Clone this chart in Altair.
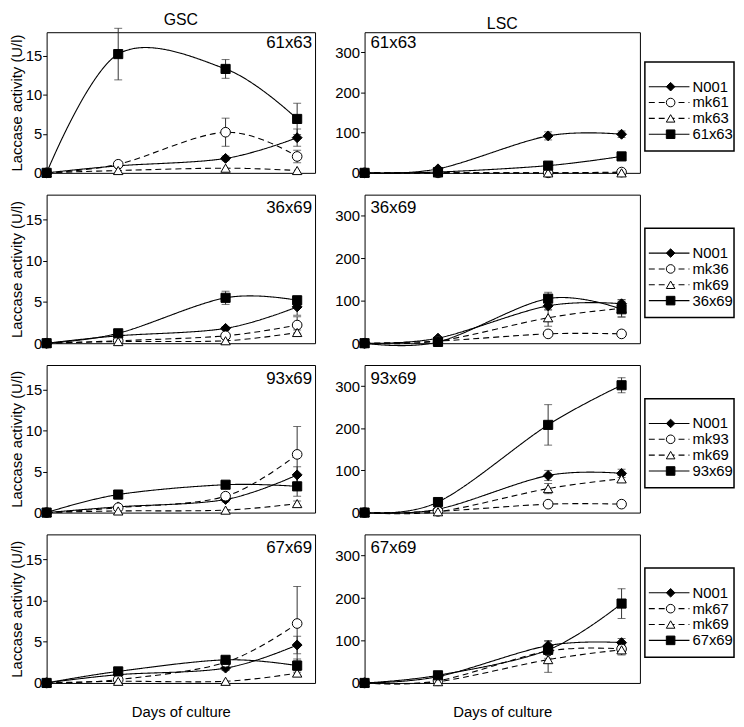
import altair as alt
import pandas as pd

DAYS = [0, 2, 5, 7]
CROSSES = ["61x63", "36x69", "93x69", "67x69"]
PARENT_A = ["mk61", "mk36", "mk93", "mk67"]
PARENT_B = ["mk63", "mk69", "mk69", "mk69"]
ROLES = ["N001", "parentA", "parentB", "cross"]

# GSC laccase activity (U/l), one list per panel row
GSC_N001 = [[0, 0.9, 1.85, 4.5], [0, 0.9, 1.8, 4.4], [0, 0.7, 1.6, 4.6], [0, 1.0, 1.8, 4.6]]
GSC_N001_ERR = [[0, 0, 0.3, 1.1], [0, 0, 0.2, 1.0], [0, 0, 0.3, 1.0], [0, 0, 0.3, 1.05]]
GSC_PA = [[0, 1.1, 5.2, 2.1], [0, 0.3, 0.9, 2.2], [0, 0.6, 2.0, 7.1], [0, 0.4, 2.5, 7.2]]
GSC_PA_ERR = [[0, 0.2, 1.8, 0.8], [0, 0, 0.2, 1.0], [0, 0, 0.3, 3.4], [0, 0, 0.3, 4.5]]
GSC_PB = [[0, 0.3, 0.6, 0.3], [0, 0.2, 0.3, 1.3], [0, 0.2, 0.3, 1.1], [0, 0.2, 0.2, 1.2]]
GSC_PB_ERR = [[0, 0, 0, 0], [0, 0, 0, 0.3], [0, 0, 0, 0.3], [0, 0, 0, 0.3]]
GSC_CROSS = [[0, 15.2, 13.3, 6.9], [0, 1.2, 5.5, 5.2], [0, 2.2, 3.4, 3.2], [0, 1.4, 2.8, 2.1]]
GSC_CROSS_ERR = [[0, 3.3, 1.2, 2.0], [0, 0.2, 0.8, 0.5], [0, 0.5, 0.4, 1.2], [0, 0.3, 0.4, 0.8]]

# LSC laccase activity (U/l)
LSC_N001 = [[0, 10, 92, 96], [0, 12, 88, 93], [0, 8, 88, 93], [0, 15, 88, 95]]
LSC_N001_ERR = [[0, 3, 10, 8], [0, 3, 10, 10], [0, 2, 12, 10], [0, 3, 12, 10]]
LSC_PA = [[0, 0, 0, 2], [0, 5, 22, 22], [0, 3, 20, 20], [0, 5, 75, 80]]
LSC_PA_ERR = [[0, 0, 0, 0], [0, 0, 3, 3], [0, 0, 3, 3], [0, 0, 8, 8]]
LSC_PB = [[0, 0, 0, 0], [0, 5, 60, 82], [0, 2, 57, 80], [0, 3, 55, 78]]
LSC_PB_ERR = [[0, 0, 0, 0], [0, 0, 20, 20], [0, 0, 12, 8], [0, 0, 30, 12]]
LSC_CROSS = [[0, 2, 18, 41], [0, 3, 105, 80], [0, 25, 208, 302], [0, 18, 78, 187]]
LSC_CROSS_ERR = [[0, 1, 4, 5], [0, 2, 15, 18], [0, 4, 48, 18], [0, 3, 20, 35]]

SERIES = {
    "GSC": [(GSC_N001, GSC_N001_ERR), (GSC_PA, GSC_PA_ERR), (GSC_PB, GSC_PB_ERR), (GSC_CROSS, GSC_CROSS_ERR)],
    "LSC": [(LSC_N001, LSC_N001_ERR), (LSC_PA, LSC_PA_ERR), (LSC_PB, LSC_PB_ERR), (LSC_CROSS, LSC_CROSS_ERR)],
}
YDOM = {"GSC": [0, 18], "LSC": [0, 350]}
YTICKS = {"GSC": [0, 5, 10, 15], "LSC": [0, 100, 200, 300]}

FONT = "Liberation Sans"
shape_scale = alt.Scale(domain=ROLES, range=["diamond", "circle", "triangle-up", "square"])
fill_scale = alt.Scale(domain=ROLES, range=["black", "white", "white", "black"])
size_scale = alt.Scale(domain=ROLES, range=[100, 85, 90, 130])
dash_scale = alt.Scale(domain=ROLES, range=[[1, 0], [6, 4], [6, 4], [1, 0]])

W_G, W_L = 271, 278
HEIGHTS = [142, 150, 149, 150]


def legend_layers(i, w, top):
    ldf = pd.DataFrame({"entry": [0, 1, 2, 3],
                        "label": ["N001", PARENT_A[i], PARENT_B[i], CROSSES[i]],
                        "role": ROLES})
    y = alt.Y("entry:O", axis=None,
              scale=alt.Scale(type="point", range=[top + 17, top + 81]))
    base = alt.Chart(ldf)
    seg = base.mark_rule(color="black", strokeWidth=1.1).encode(
        x=alt.value(w + 9), x2=alt.value(w + 50), y=y,
        strokeDash=alt.StrokeDash("role:N", scale=dash_scale, legend=None))
    mk = base.mark_point(filled=True, stroke="black", strokeWidth=1, opacity=1, fillOpacity=1).encode(
        x=alt.value(w + 31), y=y,
        shape=alt.Shape("role:N", scale=shape_scale, legend=None),
        fill=alt.Fill("role:N", scale=fill_scale, legend=None),
        size=alt.value(75))
    tx = base.mark_text(align="left", baseline="middle", fontSize=15, font=FONT, color="black").encode(
        x=alt.value(w + 53), y=y, text="label:N")
    return alt.layer(seg, mk, tx)


def panel(col, i):
    recs = []
    for role, (vals, errs) in zip(ROLES, SERIES[col]):
        for d, v, e in zip(DAYS, vals[i], errs[i]):
            recs.append({"day": d, "value": v, "err": e, "lo": v - e, "hi": v + e, "role": role})
    df = pd.DataFrame(recs)
    w = W_G if col == "GSC" else W_L
    h = HEIGHTS[i]

    if i == 3:
        xaxis = alt.Axis(title="Days of culture", labels=False, ticks=False, domain=False,
                         grid=False, titleFontSize=15, titleFontWeight="normal",
                         titleFont=FONT, titleColor="black", titlePadding=22)
    else:
        xaxis = None
    yaxis = alt.Axis(values=YTICKS[col], domain=False, grid=False, tickColor="black",
                     tickSize=4, labelPadding=1, labelFontSize=15, labelColor="black",
                     labelFont=FONT,
                     title="Laccase activity (U/l)" if col == "GSC" else None,
                     titleFontSize=15, titleFontWeight="normal", titleFont=FONT,
                     titleColor="black", titlePadding=1)
    xs = alt.Scale(domain=[0, 7.5], nice=False)
    ys = alt.Scale(domain=YDOM[col], nice=False, zero=False)

    def X():
        return alt.X("day:Q", scale=xs, axis=xaxis)

    def Y(f):
        return alt.Y(f + ":Q", scale=ys, axis=yaxis)

    base = alt.Chart(df)
    lines = base.mark_line(interpolate="cardinal", color="black", strokeWidth=1.1).encode(
        x=X(), y=Y("value"), detail="role:N",
        strokeDash=alt.StrokeDash("role:N", scale=dash_scale, legend=None))
    eb = base.transform_filter("datum.err > 0")
    bars = eb.mark_rule(color="#333", strokeWidth=1).encode(x=X(), y=Y("lo"), y2="hi:Q")
    cap_hi = eb.mark_tick(orient="horizontal", size=8, thickness=1, color="#333").encode(x=X(), y=Y("hi"))
    cap_lo = eb.mark_tick(orient="horizontal", size=8, thickness=1, color="#333").encode(x=X(), y=Y("lo"))
    pts = base.mark_point(filled=True, stroke="black", strokeWidth=1, opacity=1, fillOpacity=1).encode(
        x=X(), y=Y("value"),
        shape=alt.Shape("role:N", scale=shape_scale, legend=None),
        fill=alt.Fill("role:N", scale=fill_scale, legend=None),
        size=alt.Size("role:N", scale=size_scale, legend=None))
    ly = 11 if i == 0 else 14
    if col == "GSC":
        lab = alt.Chart(pd.DataFrame({"label": [CROSSES[i]]})).mark_text(
            align="right", baseline="middle", fontSize=17, font=FONT, color="black").encode(
            text="label:N", x=alt.value(w - 3), y=alt.value(ly))
    else:
        lab = alt.Chart(pd.DataFrame({"label": [CROSSES[i]]})).mark_text(
            align="left", baseline="middle", fontSize=17, font=FONT, color="black").encode(
            text="label:N", x=alt.value(6), y=alt.value(ly))
    main = alt.layer(lines, bars, cap_hi, cap_lo, pts, lab)
    if col == "LSC":
        top = 30 if i == 0 else 34
        frame = alt.Chart(pd.DataFrame({"k": [0]})).mark_rect(
            fill="white", stroke="black", strokeWidth=1.5).encode(
            x=alt.value(w + 5), x2=alt.value(w + 95),
            y=alt.value(top), y2=alt.value(top + 90))
        ch = alt.layer(main, frame, legend_layers(i, w, top)).resolve_scale(y="independent")
    else:
        ch = main
    ch = ch.properties(width=w, height=h)
    if i == 0:
        ch = ch.properties(title=alt.TitleParams(col, fontSize=16, fontWeight="normal",
                                                 font=FONT, color="black", offset=0))
    return ch


rows = []
for i in range(4):
    rows.append(alt.hconcat(panel("GSC", i), panel("LSC", i), spacing=18))

chart = alt.vconcat(*rows, spacing=12).properties(
    padding={"left": 0, "top": 0, "right": 0, "bottom": 0}
).configure(font=FONT).configure_view(stroke="black", strokeWidth=1)

chart.save("out.html", embed_options={"renderer": "svg", "actions": False})
